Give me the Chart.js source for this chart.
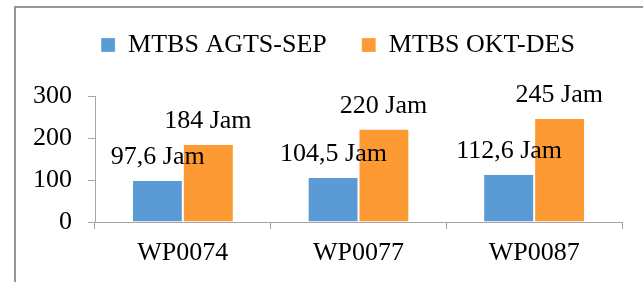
<!DOCTYPE html>
<html>
<head>
<meta charset="utf-8">
<script src="https://cdn.jsdelivr.net/npm/chart.js@4/dist/chart.umd.min.js"></script>
<style>
  html, body { margin: 0; padding: 0; background: #fff; }
  #wrap { width: 643px; height: 282px; }
</style>
</head>
<body>
<div id="wrap"><canvas id="grafik"></canvas></div>
<script>
const categories = ['WP0074', 'WP0077', 'WP0087'];
const seriesNames = ['MTBS AGTS-SEP', 'MTBS OKT-DES'];
const agtsSep = [97.6, 104.5, 112.6];
const oktDes = [184, 220, 245];
const yTicks = [0, 100, 200, 300];

const serif = 'Liberation Serif, Times New Roman, serif';
const axisGrey = '#a6a6a6';

// kotak luar (garis atas dan kiri)
const frame = {
  id: 'frame',
  beforeDraw(chart) {
    const c = chart.ctx;
    c.save();
    c.strokeStyle = '#969696';
    c.lineWidth = 2;
    c.beginPath();
    c.moveTo(15, 282);
    c.lineTo(15, 7);
    c.lineTo(643, 7);
    c.stroke();
    c.restore();
  }
};

// label "xx Jam" di atas batang
const jamLabels = {
  id: 'jamLabels',
  afterDatasetsDraw(chart) {
    const c = chart.ctx;
    c.save();
    c.font = '26px ' + serif;
    c.fillStyle = '#000';
    c.textAlign = 'center';
    c.textBaseline = 'alphabetic';
    chart.data.datasets.forEach((ds, i) => {
      chart.getDatasetMeta(i).data.forEach((bar, j) => {
        const txt = String(ds.data[j]).replace('.', ',') + ' Jam';
        c.fillText(txt, bar.x, bar.y - 17);
      });
    });
    c.restore();
  }
};

// tinggi legenda supaya area plot mulai di garis 300, dan geser sedikit ke kanan
const legendFix = {
  id: 'legendFix',
  beforeInit(chart) {
    const fit = chart.legend.fit;
    chart.legend.fit = function () {
      fit.bind(chart.legend)();
      this.height = 99;
    };
  },
  afterLayout(chart) {
    chart.legend.left += 12;
    chart.legend.right += 12;
  }
};

new Chart(document.getElementById('grafik'), {
  type: 'bar',
  data: {
    labels: categories,
    datasets: [
      { label: seriesNames[0], data: agtsSep, backgroundColor: '#5b9bd5', borderColor: '#ffffff', borderWidth: { right: 1 } },
      { label: seriesNames[1], data: oktDes, backgroundColor: '#fe9a33', borderColor: '#ffffff', borderWidth: { left: 1 } }
    ]
  },
  options: {
    responsive: true,
    maintainAspectRatio: false,
    animation: false,
    layout: { padding: { left: 30, right: 21, top: -3, bottom: 0 } },
    datasets: { bar: { categoryPercentage: 0.57, barPercentage: 1.0 } },
    plugins: {
      tooltip: { enabled: false },
      legend: {
        position: 'top',
        labels: {
          boxWidth: 14,
          boxHeight: 14,
          padding: 35,
          color: '#000',
          font: { family: serif, size: 26 }
        }
      }
    },
    scales: {
      x: {
        afterFit: s => { s.height = 60; },
        grid: { offset: true, drawOnChartArea: false, drawTicks: true, tickLength: 7, color: axisGrey },
        border: { color: axisGrey },
        ticks: { color: '#000', padding: 9, font: { family: serif, size: 26 } }
      },
      y: {
        min: yTicks[0],
        max: yTicks[yTicks.length - 1],
        afterFit: s => { s.width = 65; },
        afterBuildTicks: s => { s.ticks = yTicks.map(v => ({ value: v })); },
        grid: { drawOnChartArea: false, drawTicks: true, tickLength: 7, color: axisGrey },
        border: { color: axisGrey },
        ticks: { color: '#000', padding: 16, font: { family: serif, size: 26 } }
      }
    }
  },
  plugins: [frame, jamLabels, legendFix]
});
</script>
</body>
</html>
